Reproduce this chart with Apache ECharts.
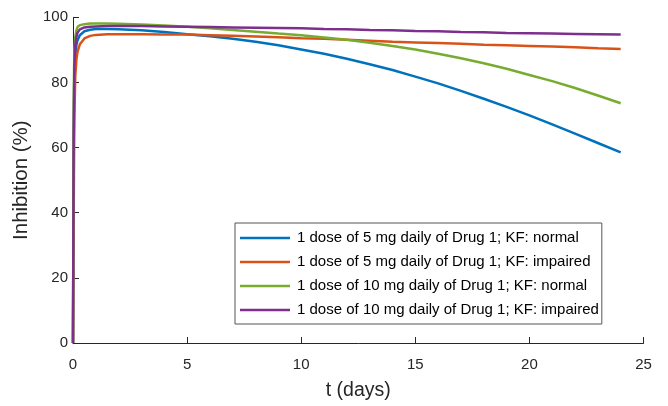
<!DOCTYPE html>
<html>
<head>
<meta charset="utf-8">
<script src="https://cdn.jsdelivr.net/npm/echarts@6/dist/echarts.min.js"></script>
<style>html,body{margin:0;padding:0;background:#fff}#c{width:668px;height:406px}</style>
</head>
<body>
<div id="c"></div>
<script>
const seriesNames = [
  '1 dose of 5 mg daily of Drug 1; KF: normal',
  '1 dose of 5 mg daily of Drug 1; KF: impaired',
  '1 dose of 10 mg daily of Drug 1; KF: normal',
  '1 dose of 10 mg daily of Drug 1; KF: impaired'
];
const tDays = [0, 0.03, 0.06, 0.1, 0.15, 0.2, 0.3, 0.5, 0.75, 1, 1.5, 2, 3, 4, 5, 6, 7, 8, 9, 10, 11, 12, 13, 14, 15, 16, 17, 18, 19, 20, 21, 22, 23, 24];
const blue5Normal = [0, 60, 80, 88, 91.5, 93, 94.5, 95.7, 96.2, 96.4, 96.4, 96.3, 96.0, 95.5, 94.8, 94.2, 93.4, 92.5, 91.4, 90.1, 88.8, 87.3, 85.6, 83.8, 81.8, 79.7, 77.4, 75.0, 72.5, 69.9, 67.1, 64.3, 61.4, 58.5];
const orange5Impaired = [0, 40, 70, 82, 87, 89.5, 91.7, 93.5, 94.3, 94.6, 94.8, 94.8, 94.8, 94.7, 94.7, 94.5, 94.3, 94.1, 93.9, 93.6, 93.4, 93.1, 92.8, 92.5, 92.3, 92.1, 91.9, 91.6, 91.4, 91.2, 91.0, 90.8, 90.5, 90.3];
const green10Normal = [0, 75, 90, 94, 96, 97, 97.6, 97.9, 98.1, 98.1, 98.1, 98.0, 97.8, 97.5, 97.1, 96.6, 96.1, 95.6, 95.0, 94.5, 93.8, 93.1, 92.2, 91.2, 90.1, 88.8, 87.4, 85.9, 84.2, 82.3, 80.4, 78.3, 76.0, 73.6];
const purple10Impaired = [0, 65, 85, 91.5, 94, 95.3, 96.3, 96.9, 97.1, 97.2, 97.3, 97.3, 97.3, 97.2, 97.1, 97.0, 96.9, 96.8, 96.7, 96.6, 96.4, 96.3, 96.1, 96.0, 95.8, 95.7, 95.5, 95.4, 95.2, 95.1, 95.0, 94.9, 94.8, 94.7];
const xTicks = [0, 5, 10, 15, 20, 25];
const yTicks = [0, 20, 40, 60, 80, 100];

const colors = ['#0072BD', '#D95319', '#77AC30', '#7E2F8E'];
const allValues = [blue5Normal, orange5Impaired, green10Normal, purple10Impaired];
const font = 'Liberation Sans, Arial, sans-serif';
const axisColor = '#262626';

const chart = echarts.init(document.getElementById('c'), null, {renderer: 'canvas'});
chart.setOption({
  animation: false,
  backgroundColor: '#fff',
  color: colors,
  grid: {left: 73, right: 24.5, top: 17.3, bottom: 60.2, containLabel: false},
  legend: {
    orient: 'vertical',
    left: 235, top: 223,
    padding: [7, 3, 6, 5],
    icon: 'rect',
    itemWidth: 50, itemHeight: 2.5, itemGap: 8,
    backgroundColor: '#fff',
    borderColor: '#555', borderWidth: 1, borderRadius: 0,
    textStyle: {fontFamily: font, fontSize: 15, lineHeight: 16, color: '#000', padding: [0, 0, 0, 2]},
    data: seriesNames
  },
  xAxis: {
    type: 'value', min: xTicks[0], max: xTicks[xTicks.length - 1], interval: 5,
    name: 't (days)', nameLocation: 'middle', nameGap: 38,
    nameTextStyle: {fontFamily: font, fontSize: 19.5, color: axisColor},
    axisLine: {show: true, lineStyle: {color: axisColor, width: 1}},
    axisTick: {show: true, inside: true, length: 6, lineStyle: {color: axisColor}},
    axisLabel: {fontFamily: font, fontSize: 15, color: axisColor, margin: 14},
    splitLine: {show: false}
  },
  yAxis: {
    type: 'value', min: yTicks[0], max: yTicks[yTicks.length - 1], interval: 20,
    name: 'Inhibition (%)', nameLocation: 'middle', nameGap: 40,
    nameTextStyle: {fontFamily: font, fontSize: 20.5, color: axisColor},
    axisLine: {show: true, lineStyle: {color: axisColor, width: 1}},
    axisTick: {show: true, inside: true, length: 6, lineStyle: {color: axisColor}},
    axisLabel: {fontFamily: font, fontSize: 15, color: axisColor, margin: 5},
    splitLine: {show: false}
  },
  series: seriesNames.map((n, i) => ({
    name: n,
    type: 'line',
    symbol: 'none',
    smooth: false,
    clip: true,
    lineStyle: {width: 2.5, color: colors[i]},
    data: tDays.map((t, k) => [t, allValues[i][k]])
  }))
});
</script>
</body>
</html>
